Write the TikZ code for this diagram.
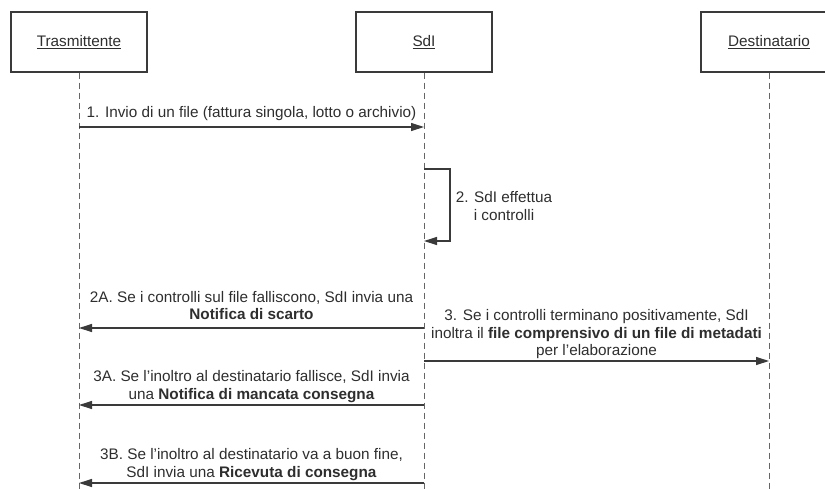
\documentclass[tikz,border=0pt]{standalone}
\usepackage{fontspec}
\setmainfont{Liberation Sans}
\usetikzlibrary{arrows.meta}
\definecolor{ink}{HTML}{2E2E2E}
\definecolor{lineink}{HTML}{3A3A3A}
\definecolor{lifeink}{HTML}{666666}
\newcommand\lastdp{\rule[-3.5pt]{0pt}{0pt}}
\begin{document}
\begin{tikzpicture}[x=1pt,y=-1pt,
  actor/.style={draw=lineink, line width=1.2pt, minimum width=136pt, minimum height=60pt, inner sep=0pt, font=\fontsize{15.3}{17.5}\selectfont, text=ink},
  life/.style={draw=lifeink, line width=1pt, dash pattern=on 6pt off 4pt},
  msg/.style={draw=lineink, line width=1.2pt, -{Triangle[length=13pt,width=8pt]}},
  lbl/.style={font=\fontsize{15.3}{17.5}\selectfont, text=ink, align=center, inner sep=0pt, anchor=south}]
\path[use as bounding box] (0,0) rectangle (825,488);
\clip (0,0) rectangle (825,488);
% actors
\node[actor] (T) at (79,42) {\underline{Trasmittente}};
\node[actor] (S) at (424,42) {\underline{SdI}};
\node[actor] (D) at (769,42) {\underline{Destinatario}};
% lifelines
\coordinate (Tb) at (79,492);
\coordinate (Sb) at (424,492);
\coordinate (Db) at (769,492);
\draw[life] (T.south) -- (Tb);
\draw[life] (S.south) -- (Sb);
\draw[life] (D.south) -- (Db);
% 1
\coordinate (t1) at (79,127);
\coordinate (s1) at (424,127);
\draw[msg] (t1) -- node[lbl, yshift=5pt] (L1) {1. Invio di un file (fattura singola, lotto o archivio)\lastdp} (s1);
% 2 self
\coordinate (s2a) at (424,169);
\coordinate (s2b) at (424,241);
\draw[msg] (s2a) -- ++(26,0) |- (s2b);
\node[lbl] (L2) at (504,223.9) {2. SdI effettua\\i controlli\lastdp};
% 2A
\coordinate (s3) at (424,328);
\coordinate (t3) at (79,328);
\draw[msg] (s3) -- node[lbl, yshift=4pt] (L2A) {2A. Se i controlli sul file falliscono, SdI invia una\\\textbf{Notifica di scarto}\lastdp} (t3);
% 3
\coordinate (s4) at (424,361);
\coordinate (d4) at (769,361);
\draw[msg] (s4) -- node[lbl, yshift=1pt] (L3) {3. Se i controlli terminano positivamente, SdI\\inoltra il \textbf{file comprensivo di un file di metadati}\\per l'elaborazione\lastdp} (d4);
% 3A
\coordinate (s5) at (424,405);
\coordinate (t5) at (79,405);
\draw[msg] (s5) -- node[lbl, yshift=1.5pt] (L3A) {3A. Se l'inoltro al destinatario fallisce, SdI invia\\una \textbf{Notifica di mancata consegna}\lastdp} (t5);
% 3B
\coordinate (s6) at (424,483);
\coordinate (t6) at (79,483);
\draw[msg] (s6) -- node[lbl, yshift=1.5pt] (L3B) {3B. Se l'inoltro al destinatario va a buon fine,\\SdI invia una \textbf{Ricevuta di consegna}\lastdp} (t6);
\end{tikzpicture}
\end{document}
